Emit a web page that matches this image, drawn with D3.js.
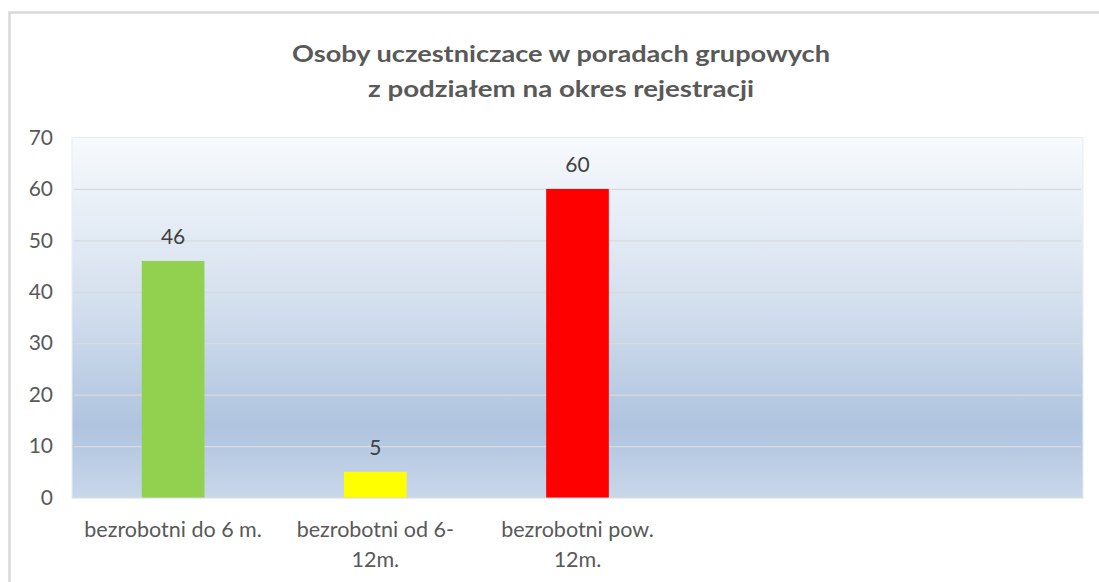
<!DOCTYPE html>
<html>
<head>
<meta charset="utf-8">
<script src="https://cdn.jsdelivr.net/npm/d3@7"></script>
<style>
  html, body { margin: 0; padding: 0; background: #ffffff; }
  svg { display: block; }
</style>
</head>
<body>
<svg id="chart" width="1099" height="582"></svg>
<script>
// ---- data ----
const titleLines = ["Osoby uczestniczace w poradach grupowych", "z podziałem na okres rejestracji"];
const categories = ["bezrobotni do 6 m.", "bezrobotni od 6-\n12m.", "bezrobotni pow.\n12m.", "", ""];
const values = [46, 5, 60, null, null];
const barColors = ["#92d050", "#ffff00", "#ff0000", "#cccccc", "#cccccc"];
const yTicks = [0, 10, 20, 30, 40, 50, 60, 70];

// ---- layout ----
const W = 1099, H = 582;
const plot = { left: 72, right: 1083, top: 137.5, bottom: 497.5 };
const FONT = "Lato, 'Open Sans', 'DejaVu Sans', sans-serif";

const svg = d3.select("#chart");

// outer frame
svg.append("rect")
  .attr("x", 9.5).attr("y", 12.5)
  .attr("width", W + 20).attr("height", H + 20)
  .attr("fill", "#ffffff")
  .attr("stroke", "#d9d9d9").attr("stroke-width", 2.5);

// gradient
const defs = svg.append("defs");
const grad = defs.append("linearGradient").attr("id", "bg")
  .attr("x1", 0).attr("y1", 0).attr("x2", 0).attr("y2", 1);
[["0%", "#f7fafd"], ["45%", "#d5e0ee"], ["80%", "#afc4df"], ["100%", "#c9d7ea"]]
  .forEach(([o, c]) => grad.append("stop").attr("offset", o).attr("stop-color", c));

svg.append("rect")
  .attr("x", plot.left).attr("y", plot.top)
  .attr("width", plot.right - plot.left).attr("height", plot.bottom - plot.top + 1)
  .attr("fill", "url(#bg)")
  .attr("stroke", "#e6edf6").attr("stroke-width", 1);

// scales
const x = d3.scaleBand()
  .domain(d3.range(categories.length))
  .range([plot.left, plot.right])
  .paddingInner(0.69).paddingOuter(0.345);

const y = d3.scaleLinear().domain([0, 70]).range([plot.bottom, plot.top]);

// gridlines
const grid = svg.append("g")
  .attr("transform", `translate(${plot.left + 2},0)`)
  .call(d3.axisLeft(y).tickValues(yTicks.filter(t => t > 0 && t < 70))
    .tickSize(-(plot.right - plot.left - 4)).tickFormat(""));
grid.select(".domain").remove();
grid.selectAll(".tick line").attr("stroke", "#d7d9de").attr("stroke-width", 1.2);

// baseline
svg.append("line")
  .attr("x1", plot.left).attr("x2", plot.right)
  .attr("y1", y(0)).attr("y2", y(0))
  .attr("stroke", "#d9d9d9").attr("stroke-width", 1.2);

// y axis labels
const yAxis = svg.append("g")
  .attr("transform", `translate(${plot.left},0)`)
  .call(d3.axisLeft(y).tickValues(yTicks).tickSize(0).tickPadding(19));
yAxis.select(".domain").remove();
yAxis.selectAll("text")
  .attr("font-family", FONT).attr("font-size", 21).attr("fill", "#595959");

// bars
const data = values.map((v, i) => ({ i, v })).filter(d => d.v != null);
svg.append("g").selectAll("rect").data(data).join("rect")
  .attr("x", d => x(d.i))
  .attr("width", x.bandwidth())
  .attr("y", d => y(d.v))
  .attr("height", d => y(0) - y(d.v))
  .attr("fill", d => barColors[d.i]);

// data labels
svg.append("g").selectAll("text").data(data).join("text")
  .attr("x", d => x(d.i) + x.bandwidth() / 2)
  .attr("y", d => y(d.v) - 17)
  .attr("text-anchor", "middle")
  .attr("font-family", FONT).attr("font-size", 21).attr("fill", "#404040")
  .text(d => d.v);

// category labels
const cat = svg.append("g");
categories.forEach((c, i) => {
  if (!c) return;
  const t = cat.append("text")
    .attr("text-anchor", "middle")
    .attr("font-family", FONT).attr("font-size", 21.5).attr("fill", "#595959");
  c.split("\n").forEach((line, k) => {
    t.append("tspan")
      .attr("x", x(i) + x.bandwidth() / 2)
      .attr("y", 537 + k * 30)
      .text(line);
  });
});

// title
const titleWidths = [538, 386];
titleLines.forEach((line, k) => {
  svg.append("text")
    .attr("x", 561).attr("y", 62 + k * 35)
    .attr("text-anchor", "middle")
    .attr("font-family", FONT).attr("font-weight", "bold")
    .attr("font-size", 22).attr("fill", "#595959")
    .attr("textLength", titleWidths[k]).attr("lengthAdjust", "spacingAndGlyphs")
    .text(line);
});
</script>
</body>
</html>
